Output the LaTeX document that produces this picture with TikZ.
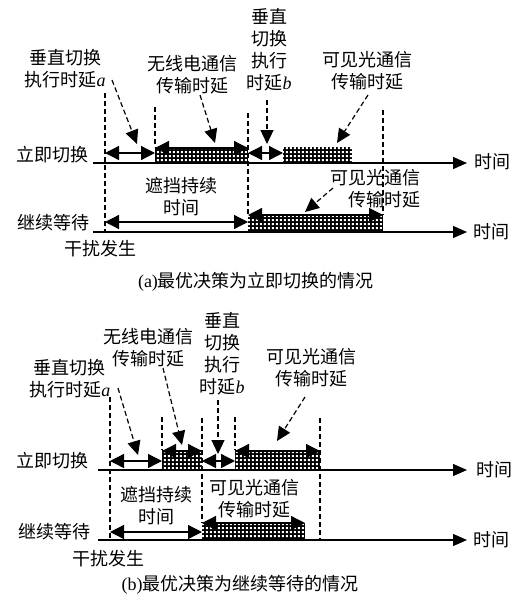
\documentclass[tikz,border=0pt]{standalone}
\usepackage{fontspec}
\setmainfont{Liberation Serif}
\newfontfamily\cjk{Noto Sans CJK SC}
\usetikzlibrary{arrows.meta,patterns.meta}
\tikzdeclarepattern{
  name=wdots,
  type=uncolored,
  bounding box={(0pt,0pt) and (3.8pt,3.8pt)},
  tile size={(3.8pt,3.8pt)},
  code={\pgfpathrectangle{\pgfpoint{0.9pt}{0.9pt}}{\pgfpoint{2pt}{2pt}}\pgfusepath{fill}}
}
\newcommand{\itl}[1]{{\rmfamily\itshape #1}}
\begin{document}
\begin{tikzpicture}[x=1pt,y=-1pt,
  lbl/.style={font=\cjk\fontsize{18}{22}\selectfont, inner sep=0pt, align=center},
  axis/.style={line width=1.3pt, -{Triangle[length=14pt,width=12pt]}},
  dbl/.style={line width=1.3pt, {Triangle[length=14pt,width=14pt]}-{Triangle[length=14pt,width=14pt]}},
  guide/.style={line width=1.2pt, dash pattern=on 5pt off 3pt},
  pointer/.style={guide, -{Triangle[length=14pt,width=13pt]}},
  bar/.style={fill=black, postaction={pattern=wdots, pattern color=white}}]
\useasboundingbox[fill=white] (0,0) rectangle (522,595);

% ================= panel (a) =================
\coordinate (a1s) at (93,163);  \coordinate (a1e) at (467,163);
\coordinate (a2s) at (93,232);  \coordinate (a2e) at (467,232);
\node[lbl, anchor=east] (a1lab) at (89,155) {立即切换};
\node[lbl, anchor=east] (a2lab) at (90,223) {继续等待};
\node[lbl] (a1t) at (492,162) {时间};
\node[lbl] (a2t) at (491,232) {时间};
\node[lbl] (aint) at (100,249) {干扰发生};
\node[lbl] (acap) at (256,282) {{\rmfamily (a)}最优决策为立即切换的情况};

\path[bar] (155,147) rectangle (248,163);
\path[bar] (283,147) rectangle (352,163);
\path[bar] (248,215) rectangle (383,232);

\draw[axis] (a1s) -- (a1e);
\draw[axis] (a2s) -- (a2e);

\coordinate (ga1t) at (105,93);  \coordinate (ga1b) at (105,232);
\coordinate (ga2t) at (155,107); \coordinate (ga2b) at (155,147);
\coordinate (ga3t) at (248,113); \coordinate (ga3b) at (248,215);
\coordinate (ga4t) at (383,110); \coordinate (ga4b) at (383,215);
\draw[guide] (ga1t) -- (ga1b);
\draw[guide] (ga2t) -- (ga2b);
\draw[guide] (ga3t) -- (ga3b);
\draw[guide] (ga4t) -- (ga4b);

\coordinate (da1l) at (105,153); \coordinate (da1r) at (155,153);
\coordinate (da2l) at (155,148); \coordinate (da2r) at (248,148);
\coordinate (da3l) at (248,153); \coordinate (da3r) at (283,153);
\coordinate (da4l) at (105,222); \coordinate (da4r) at (248,222);
\coordinate (da5l) at (248,215); \coordinate (da5r) at (383,215);
\draw[dbl] (da1l) -- (da1r);
\draw[dbl] (da2l) -- (da2r);
\draw[dbl] (da3l) -- (da3r);
\draw[dbl] (da4l) -- (da4r);
\draw[dbl] (da5l) -- (da5r);

\node[lbl] (aA) at (65,69) {垂直切换\\执行时延\itl{a}};
\node[lbl] (aB) at (192,75) {无线电通信\\传输时延};
\node[lbl] (aC) at (269,50) {垂直\\切换\\执行\\时延\itl{b}};
\node[lbl] (aD) at (367,71) {可见光通信\\传输时延};
\node[lbl] (aE) at (181,197) {遮挡持续\\时间};
\node[lbl, align=right, anchor=east] (aF) at (421,189) {可见光通信\\传输时延};

\coordinate (pa1s) at (112,80);  \coordinate (pa1e) at (137,144);
\coordinate (pa2s) at (200,95);  \coordinate (pa2e) at (215,143);
\coordinate (pa3s) at (267,100); \coordinate (pa3e) at (267,144);
\coordinate (pa4s) at (368,95);  \coordinate (pa4e) at (337,143);
\coordinate (pa5s) at (333,188); \coordinate (pa5e) at (305,212);
\draw[pointer] (pa1s) -- (pa1e);
\draw[pointer] (pa2s) -- (pa2e);
\draw[pointer] (pa3s) -- (pa3e);
\draw[pointer] (pa4s) -- (pa4e);
\draw[pointer] (pa5s) -- (pa5e);

% ================= panel (b) =================
\coordinate (b1s) at (98,470);  \coordinate (b1e) at (467,470);
\coordinate (b2s) at (98,540);  \coordinate (b2e) at (467,540);
\node[lbl, anchor=east] (b1lab) at (89,461) {立即切换};
\node[lbl, anchor=east] (b2lab) at (91,532) {继续等待};
\node[lbl] (b1t) at (494,470) {时间};
\node[lbl] (b2t) at (491,540) {时间};
\node[lbl] (bint) at (108,559) {干扰发生};
\node[lbl] (bcap) at (240,585) {{\rmfamily (b)}最优决策为继续等待的情况};

\path[bar] (162,450) rectangle (202,470);
\path[bar] (235,450) rectangle (320,470);
\path[bar] (202,523) rectangle (305,540);

\draw[axis] (b1s) -- (b1e);
\draw[axis] (b2s) -- (b2e);

\coordinate (gb1t) at (110,397); \coordinate (gb1b) at (110,538);
\coordinate (gb2t) at (162,417); \coordinate (gb2b) at (162,450);
\coordinate (gb3t) at (202,418); \coordinate (gb3b) at (202,523);
\coordinate (gb4t) at (235,417); \coordinate (gb4b) at (235,450);
\coordinate (gb5t) at (320,418); \coordinate (gb5b) at (320,540);
\draw[guide] (gb1t) -- (gb1b);
\draw[guide] (gb2t) -- (gb2b);
\draw[guide] (gb3t) -- (gb3b);
\draw[guide] (gb4t) -- (gb4b);
\draw[guide] (gb5t) -- (gb5b);

\coordinate (db1l) at (110,461); \coordinate (db1r) at (162,461);
\coordinate (db2l) at (162,451); \coordinate (db2r) at (202,451);
\coordinate (db3l) at (202,461); \coordinate (db3r) at (235,461);
\coordinate (db4l) at (235,451); \coordinate (db4r) at (320,451);
\coordinate (db5l) at (110,532); \coordinate (db5r) at (202,532);
\coordinate (db6l) at (202,523); \coordinate (db6r) at (305,523);
\draw[dbl] (db1l) -- (db1r);
\draw[dbl] (db2l) -- (db2r);
\draw[dbl] (db3l) -- (db3r);
\draw[dbl] (db4l) -- (db4r);
\draw[dbl] (db5l) -- (db5r);
\draw[dbl] (db6l) -- (db6r);

\node[lbl] (bA) at (70,379) {垂直切换\\执行时延\itl{a}};
\node[lbl] (bB) at (148,348) {无线电通信\\传输时延};
\node[lbl] (bC) at (222,354) {垂直\\切换\\执行\\时延\itl{b}};
\node[lbl] (bD) at (311,368) {可见光通信\\传输时延};
\node[lbl] (bE) at (156,506) {遮挡持续\\时间};
\node[lbl] (bF) at (254,499) {可见光通信\\传输时延};

\coordinate (pb1s) at (118,388); \coordinate (pb1e) at (138,455);
\coordinate (pb2s) at (163,368); \coordinate (pb2e) at (182,445);
\coordinate (pb3s) at (218,400); \coordinate (pb3e) at (218,454);
\coordinate (pb4s) at (305,397); \coordinate (pb4e) at (277,441);
\draw[pointer] (pb1s) -- (pb1e);
\draw[pointer] (pb2s) -- (pb2e);
\draw[pointer] (pb3s) -- (pb3e);
\draw[pointer] (pb4s) -- (pb4e);
\end{tikzpicture}
\end{document}
